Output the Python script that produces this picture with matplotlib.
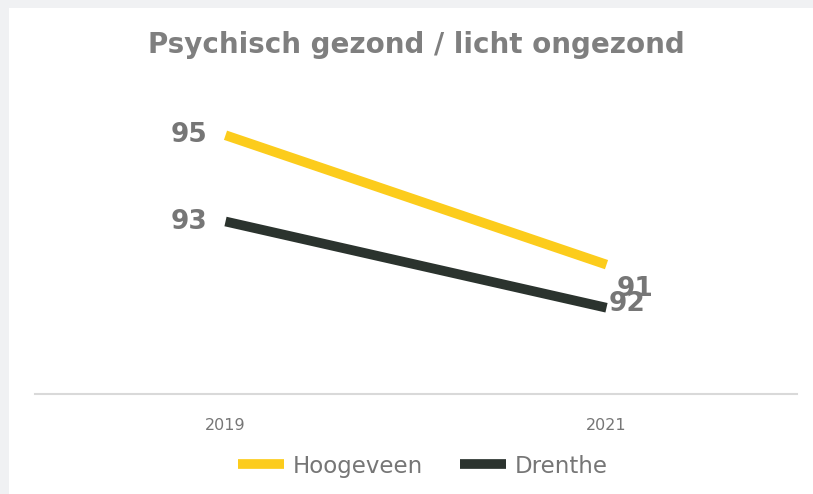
import matplotlib
matplotlib.use("Agg")
import matplotlib.pyplot as plt
from matplotlib.patches import Rectangle

# --- data ---
years = ["2019", "2021"]
hoogeveen = [95, 92]
drenthe = [93, 91]
series_names = ["Hoogeveen", "Drenthe"]
colors = ["#FCCC1C", "#2B332E"]

TEXT = "#767676"
W, H, DPI = 813, 494, 100

fig = plt.figure(figsize=(W / DPI, H / DPI), dpi=DPI)
fig.patch.set_facecolor("white")

# light grey frame strip along top and left edge
fig.add_artist(Rectangle((0, 1 - 8 / H), 1, 8 / H, transform=fig.transFigure,
                         color="#F0F1F3", lw=0, zorder=0))
fig.add_artist(Rectangle((0, 0), 9 / W, 1, transform=fig.transFigure,
                         color="#F0F1F3", lw=0, zorder=0))

# plot area in pixels: x 35..797, y 49..394
left, right, top, bottom = 35, 797, 49, 394
ax = fig.add_axes([left / W, 1 - bottom / H, (right - left) / W, (bottom - top) / H])
ax.set_facecolor("none")

x = range(len(years))
for vals, name, c in zip([hoogeveen, drenthe], series_names, colors):
    ax.plot(x, vals, color=c, lw=7, solid_capstyle="butt", label=name)

ax.set_xlim(-0.5, 1.5)
ax.set_ylim(89, 97)
ax.set_yticks([])
ax.set_xticks(list(x))
ax.set_xticklabels(years, color=TEXT, fontsize=11.5, family="DejaVu Sans")
ax.tick_params(axis="x", length=0, pad=17)
for s in ["top", "right", "left"]:
    ax.spines[s].set_visible(False)
ax.spines["bottom"].set_color("#D9D9D9")
ax.spines["bottom"].set_linewidth(1.5)

lab = dict(color=TEXT, fontsize=19, fontweight="bold", family="DejaVu Sans",
           va="center", ha="center")
# 2019 labels sit left of the points
ax.annotate(str(hoogeveen[0]), (0, hoogeveen[0]), xytext=(-37, 0),
            textcoords="offset pixels", **lab)
ax.annotate(str(drenthe[0]), (0, drenthe[0]), xytext=(-37, 0),
            textcoords="offset pixels", **lab)
# 2021 labels were nudged by hand and overlap
ax.annotate(str(drenthe[1]), (1, drenthe[1]), xytext=(29, 19),
            textcoords="offset pixels", **lab)
ax.annotate(str(hoogeveen[1]), (1, hoogeveen[1]), xytext=(20, -39),
            textcoords="offset pixels", **lab)

fig.text(416 / W, 1 - 45 / H, "Psychisch gezond / licht ongezond", color="#7F7F7F",
         fontsize=20, fontweight="bold", family="DejaVu Sans", ha="center", va="center")

leg = fig.legend(loc="center", bbox_to_anchor=(423 / W, 1 - 466 / H), ncol=2,
                 frameon=False, handlelength=2.0, handletextpad=0.4,
                 columnspacing=1.6, prop={"family": "DejaVu Sans", "size": 16.5})
for t in leg.get_texts():
    t.set_color(TEXT)
for h in leg.get_lines():
    h.set_linewidth(7)

fig.savefig("out.png", dpi=DPI)
